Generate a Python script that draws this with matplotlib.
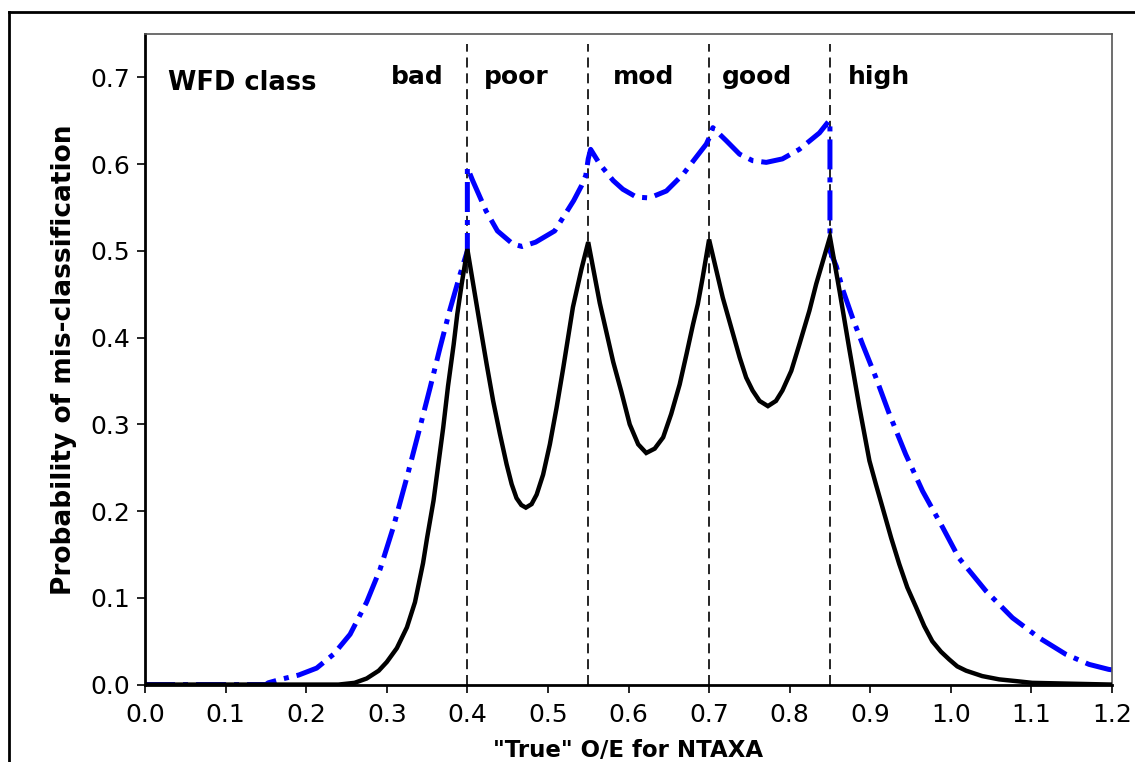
import matplotlib
matplotlib.use("Agg")
import matplotlib.pyplot as plt
from matplotlib.lines import Line2D

# WFD class boundaries on the O/E scale
class_bounds = [0.40, 0.55, 0.70, 0.85]
class_names = ["bad", "poor", "mod", "good", "high"]

# black solid curve
black_x = [0.0, 0.24, 0.26, 0.275, 0.29, 0.30, 0.3125, 0.325, 0.335, 0.345,
           0.350, 0.358, 0.364, 0.370, 0.376, 0.383, 0.3875, 0.393, 0.400,
           0.4156, 0.424, 0.432, 0.4404, 0.4487, 0.455, 0.461, 0.467, 0.4726, 0.4797,
           0.486, 0.494, 0.5024, 0.5107, 0.519, 0.525, 0.531, 0.5416, 0.550,
           0.5643, 0.581, 0.591, 0.6015, 0.612, 0.622, 0.6325, 0.643, 0.653, 0.6635,
           0.672, 0.680, 0.686, 0.692, 0.700,
           0.717, 0.7275, 0.738, 0.746, 0.754, 0.7626, 0.773, 0.783, 0.791, 0.802,
           0.812, 0.8245, 0.833, 0.839, 0.850,
           0.8617, 0.874, 0.8865, 0.899, 0.907, 0.9153, 0.926, 0.936, 0.946, 0.957,
           0.967, 0.977, 0.9877, 0.998, 1.008, 1.019, 1.039, 1.060, 1.081, 1.101, 1.200]
black_y = [0.0, 0.0, 0.002, 0.007, 0.016, 0.026, 0.042, 0.066, 0.095, 0.140,
           0.169, 0.212, 0.254, 0.296, 0.344, 0.392, 0.427, 0.462, 0.502,
           0.415, 0.369, 0.327, 0.289, 0.254, 0.231, 0.215, 0.207, 0.204, 0.208,
           0.219, 0.242, 0.277, 0.319, 0.365, 0.400, 0.435, 0.479, 0.510,
           0.440, 0.372, 0.338, 0.300, 0.277, 0.267, 0.272, 0.285, 0.312, 0.346,
           0.381, 0.415, 0.4385, 0.469, 0.513,
           0.446, 0.4115, 0.377, 0.354, 0.339, 0.327, 0.321, 0.327, 0.339, 0.3616,
           0.392, 0.431, 0.462, 0.481, 0.516,
           0.455, 0.387, 0.320, 0.258, 0.231, 0.204, 0.169, 0.139, 0.112, 0.089,
           0.0675, 0.050, 0.038, 0.029, 0.021, 0.016, 0.0098, 0.006, 0.004, 0.002, 0.0]

# blue dash-dot curve
blue_x = [0.0, 0.150, 0.1528, 0.168, 0.1907, 0.213, 0.234, 0.2545, 0.275, 0.2917,
          0.308, 0.325, 0.341, 0.3537, 0.366, 0.378, 0.391, 0.400, 0.400,
          0.4066, 0.4232, 0.4373, 0.4563, 0.468, 0.4847, 0.5084, 0.532, 0.5416, 0.547, 0.550, 0.553,
          0.5643, 0.581, 0.593, 0.6098, 0.626, 0.647, 0.6675, 0.684, 0.6965, 0.700, 0.7047,
          0.7213, 0.7378, 0.754, 0.771, 0.791, 0.812, 0.837, 0.849, 0.850, 0.850,
          0.858, 0.866, 0.878, 0.8906, 0.907, 0.9237, 0.944, 0.965, 0.990, 1.010,
          1.0435, 1.0765, 1.1095, 1.1426, 1.1715, 1.196, 1.200]
blue_y = [0.0, 0.0, 0.002, 0.006, 0.011, 0.019, 0.035, 0.058, 0.095, 0.133,
          0.181, 0.239, 0.296, 0.342, 0.388, 0.431, 0.473, 0.500, 0.596,
          0.581, 0.546, 0.523, 0.508, 0.505, 0.510, 0.523, 0.558, 0.575, 0.587, 0.606, 0.617,
          0.600, 0.581, 0.571, 0.562, 0.561, 0.569, 0.588, 0.608, 0.623, 0.630, 0.642,
          0.627, 0.6115, 0.604, 0.602, 0.606, 0.617, 0.636, 0.650, 0.650, 0.500,
          0.482, 0.455, 0.423, 0.392, 0.354, 0.312, 0.2655, 0.223, 0.181, 0.146,
          0.108, 0.077, 0.054, 0.035, 0.0233, 0.0175, 0.017]

x_ticks = [0.0, 0.1, 0.2, 0.3, 0.4, 0.5, 0.6, 0.7, 0.8, 0.9, 1.0, 1.1, 1.2]
y_ticks = [0.0, 0.1, 0.2, 0.3, 0.4, 0.5, 0.6, 0.7]

plt.rcParams['font.family'] = ['DejaVu Sans']

fig = plt.figure(figsize=(11.35, 7.62), dpi=100)
ax = fig.add_axes([0.1278, 0.1016, 0.8519, 0.8538])

# class boundaries
for xb in class_bounds:
    ax.plot([xb, xb], [0, 0.738], color='black', lw=1.2, dashes=(6, 3.5), zorder=1)

ax.plot(blue_x, blue_y, color='#0000ff', lw=3.6, dashes=(6, 1.6, 1.0, 1.6),
        dash_capstyle='butt', zorder=2)
ax.plot(black_x, black_y, color='black', lw=3.2, solid_joinstyle='miter', zorder=3)

ax.set_xlim(0, 1.2)
ax.set_ylim(0, 0.75)
ax.set_xticks(x_ticks)
ax.set_yticks(y_ticks)
ax.set_xticklabels([f"{v:.1f}" for v in x_ticks])
ax.set_yticklabels([f"{v:.1f}" for v in y_ticks])
ax.tick_params(axis='both', direction='out', length=6, width=1.2, labelsize=18)
ax.tick_params(axis='x', pad=7)
ax.tick_params(axis='y', pad=5)

for side in ['left', 'bottom']:
    ax.spines[side].set_linewidth(2)
    ax.spines[side].set_color('black')
for side in ['top', 'right']:
    ax.spines[side].set_linewidth(1.2)
    ax.spines[side].set_color('#555555')

ax.set_xlabel('"True" O/E for NTAXA', fontsize=16.5, fontweight='bold', labelpad=9)
ax.set_ylabel('Probability of mis-classification', fontsize=19, fontweight='bold', labelpad=9)

# class labels along the top
ax.text(0.029, 0.685, "WFD class", fontsize=18.5, fontweight='bold', ha='left', va='baseline')
label_x = [0.338, 0.461, 0.619, 0.759, 0.911]
for name, lx in zip(class_names, label_x):
    ax.text(lx, 0.692, name, fontsize=18, fontweight='bold', ha='center', va='baseline')

# frame round the figure (left and top edges)
fx = 9 / 1135
fy = 1 - 11.7 / 762
fig.add_artist(Line2D([fx, fx], [0, fy], color='black', lw=2, transform=fig.transFigure))
fig.add_artist(Line2D([fx, 1], [fy, fy], color='black', lw=2, transform=fig.transFigure))

fig.savefig("out.png", dpi=100)
